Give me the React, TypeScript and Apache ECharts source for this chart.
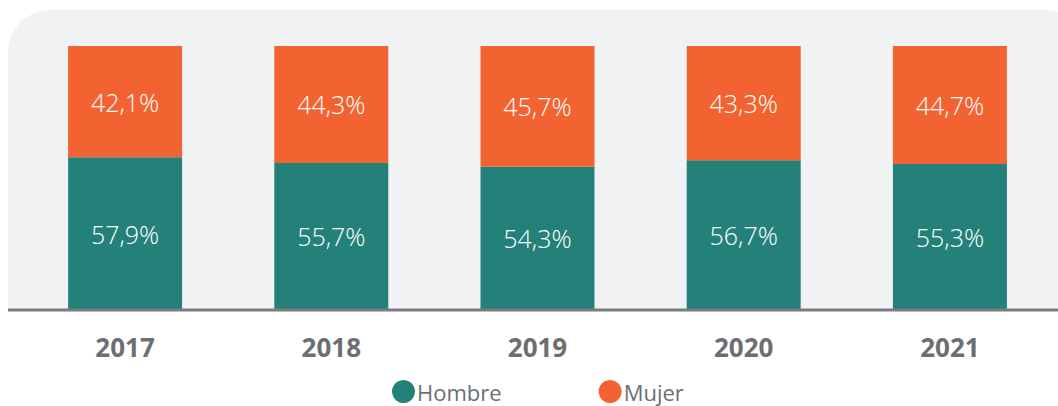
import React, { useEffect, useRef } from "react";
import * as echarts from "echarts";

const years = ["2017", "2018", "2019", "2020", "2021"];
const hombre = [57.9, 55.7, 54.3, 56.7, 55.3];
const mujer = [42.1, 44.3, 45.7, 43.3, 44.7];
const seriesNames = ["Hombre", "Mujer"];

const TEAL = "#23817a";
const ORANGE = "#f26331";
const FONT = "'Open Sans', sans-serif";

const fmt = (v: number) => v.toFixed(1).replace(".", ",") + "%";

export default function App() {
  const ref = useRef<HTMLDivElement>(null);
  useEffect(() => {
    if (!ref.current) return;
    document.body.style.margin = "0";
    document.body.style.overflow = "hidden";
    const chart = echarts.init(ref.current, undefined, { renderer: "svg" });
    const label = {
      show: true,
      position: "inside" as const,
      color: "#ffffff",
      fontSize: 25,
      fontFamily: FONT,
      fontWeight: 300,
      formatter: (p: any) => fmt(p.value),
    };
    chart.setOption({
      animation: false,
      graphic: [
        {
          type: "rect",
          z: -10,
          silent: true,
          shape: { x: 8, y: 10, width: 1080, height: 300, r: [42, 42, 0, 0] },
          style: { fill: "#f1f2f4" },
        },
        {
          type: "line",
          z: 10,
          silent: true,
          shape: { x1: 8, y1: 310, x2: 1058, y2: 310 },
          style: { stroke: "#7b7b80", lineWidth: 3 },
        },
      ],
      grid: { left: 22, right: 5, top: 46, bottom: 96, containLabel: false },
      legend: {
        data: seriesNames,
        top: 375,
        left: 387,
        icon: "circle",
        itemWidth: 23,
        itemHeight: 23,
        itemGap: 97,
        textStyle: { color: "#6d6e71", fontSize: 22, fontFamily: FONT, padding: [0, 0, 0, -3] },
      },
      xAxis: {
        type: "category",
        data: years,
        axisLine: { show: false },
        axisTick: { show: false },
        axisLabel: {
          color: "#6d6e71",
          fontSize: 26,
          fontWeight: "bold",
          fontFamily: FONT,
          margin: 24,
        },
      },
      yAxis: {
        type: "value",
        min: 0,
        max: 100,
        show: false,
        splitLine: { show: false },
      },
      series: [
        {
          name: seriesNames[0],
          type: "bar",
          stack: "total",
          barWidth: 114,
          data: hombre,
          itemStyle: { color: TEAL },
          label,
        },
        {
          name: seriesNames[1],
          type: "bar",
          stack: "total",
          barWidth: 114,
          data: mujer,
          itemStyle: { color: ORANGE },
          label,
        },
      ],
    });
    return () => chart.dispose();
  }, []);
  return (
    <div
      ref={ref}
      style={{ position: "absolute", left: 0, top: 0, width: 1058, height: 406 }}
    />
  );
}
